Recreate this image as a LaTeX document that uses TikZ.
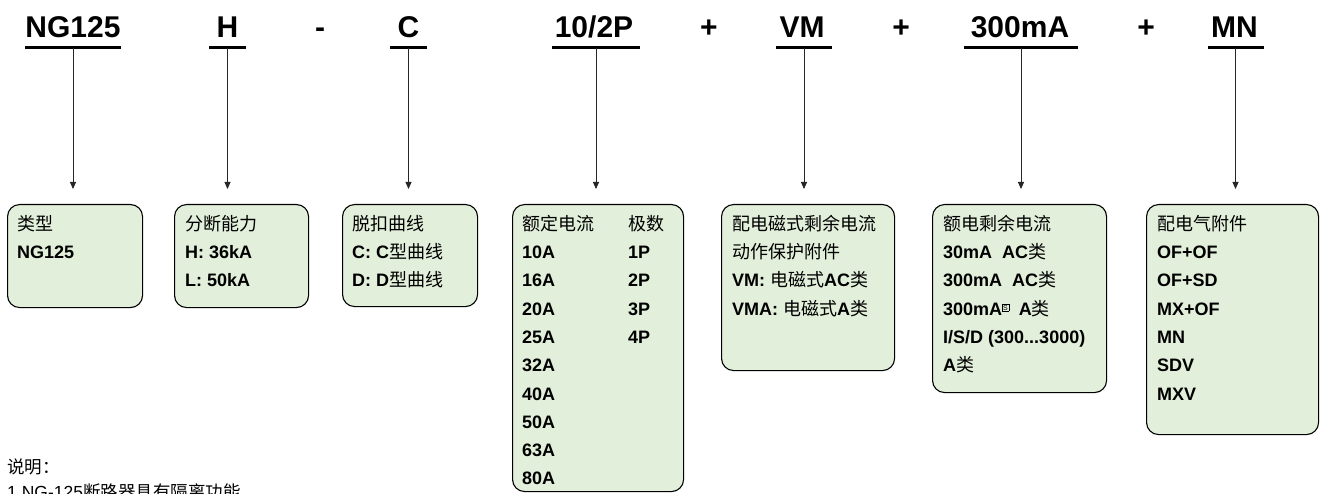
\documentclass[tikz,border=0pt]{standalone}
\usepackage{fontspec}
\setmainfont{Liberation Sans}
\newfontfamily\cjk{Noto Sans CJK SC}
\newcommand{\zh}[1]{{\cjk\mdseries #1}}
\newcommand{\boxS}{\raisebox{5pt}{\fboxsep=0.6pt\fboxrule=0.4pt\fbox{\fontsize{7}{7}\selectfont\mdseries S}}}
\usetikzlibrary{arrows.meta}
\definecolor{boxfill}{RGB}{226,239,218}
\begin{document}
\begin{tikzpicture}[x=1pt,y=-1pt,
  hdr/.style={font=\fontsize{30}{30}\selectfont\bfseries, inner sep=0pt, anchor=base},
  uline/.style={line width=3pt},
  conn/.style={line width=0.8pt, draw=black!85, -{Triangle[length=7pt,width=6pt]}, shorten >=15pt},
  card/.style={draw=black, line width=1.1pt, fill=boxfill, rounded corners=12pt, anchor=north west, inner sep=0pt},
  cardtext/.style={anchor=north west, inner sep=0pt, align=left, font=\fontsize{18}{28.3}\selectfont\bfseries},
  note/.style={anchor=north west, inner sep=0pt, align=left, font=\fontsize{17.5}{25.5}\selectfont},
]
\useasboundingbox (0,0) rectangle (1322,494);

% header codes
\node[hdr] (h1) at (73,38) {NG125};
\node[hdr] (h2) at (227.5,38) {H};
\node[hdr] (m1) at (320,38) {-};
\node[hdr] (h3) at (408.5,38) {C};
\node[hdr] (h4) at (594,38) {10/2P};
\node[hdr] (p1) at (709,38) {+};
\node[hdr] (h5) at (802,38) {VM};
\node[hdr] (p2) at (901,38) {+};
\node[hdr] (h6) at (1020,38) {300mA};
\node[hdr] (p3) at (1146,38) {+};
\node[hdr] (h7) at (1234.5,38) {MN};

% underline centres
\coordinate (u1) at (73,48);
\coordinate (u2) at (227.5,48);
\coordinate (u3) at (408.5,48);
\coordinate (u4) at (596,48);
\coordinate (u5) at (804,48);
\coordinate (u6) at (1021,48);
\coordinate (u7) at (1235.5,48);
\draw[uline] (u1) ++(-48,0) -- ++(96,0);
\draw[uline] (u2) ++(-18.5,0) -- ++(37,0);
\draw[uline] (u3) ++(-18.5,0) -- ++(37,0);
\draw[uline] (u4) ++(-44,0) -- ++(88,0);
\draw[uline] (u5) ++(-28,0) -- ++(56,0);
\draw[uline] (u6) ++(-57,0) -- ++(114,0);
\draw[uline] (u7) ++(-28,0) -- ++(56,0);

% boxes
\node[card, minimum width=135pt, minimum height=103pt] (b1) at (7,204) {};
\node[card, minimum width=134pt, minimum height=103pt] (b2) at (174,204) {};
\node[card, minimum width=135pt, minimum height=102pt] (b3) at (342,204) {};
\node[card, minimum width=171pt, minimum height=287pt] (b4) at (512,204) {};
\node[card, minimum width=173pt, minimum height=166pt] (b5) at (721,204) {};
\node[card, minimum width=174pt, minimum height=188pt] (b6) at (932,204) {};
\node[card, minimum width=172pt, minimum height=230pt] (b7) at (1146,204) {};

% connectors
\draw[conn] (u1) -- (u1 |- b1.north);
\draw[conn] (u2) -- (u2 |- b2.north);
\draw[conn] (u3) -- (u3 |- b3.north);
\draw[conn] (u4) -- (u4 |- b4.north);
\draw[conn] (u5) -- (u5 |- b5.north);
\draw[conn] (u6) -- (u6 |- b6.north);
\draw[conn] (u7) -- (u7 |- b7.north);

% box texts
\node[cardtext] (t1) at (17,214) {\rule{0pt}{16pt}\zh{类型}\\NG125};
\node[cardtext] (t2) at (185,214) {\rule{0pt}{16pt}\zh{分断能力}\\H: 36kA\\L: 50kA};
\node[cardtext] (t3) at (352,214) {\rule{0pt}{16pt}\zh{脱扣曲线}\\C: C\zh{型曲线}\\D: D\zh{型曲线}};
\node[cardtext] (t4a) at (522,214) {\rule{0pt}{16pt}\zh{额定电流}\\10A\\16A\\20A\\25A\\32A\\40A\\50A\\63A\\80A};
\node[cardtext] (t4b) at (628,214) {\rule{0pt}{16pt}\zh{极数}\\1P\\2P\\3P\\4P};
\node[cardtext] (t5) at (732,214) {\rule{0pt}{16pt}\zh{配电磁式剩余电流}\\\zh{动作保护附件}\\VM: \zh{电磁式}AC\zh{类}\\VMA: \zh{电磁式}A\zh{类}};
\node[cardtext] (t6) at (943,214) {\rule{0pt}{16pt}\zh{额电剩余电流}\\30mA\ \ AC\zh{类}\\300mA\ \ AC\zh{类}\\300mA\boxS\ \ A\zh{类}\\I/S/D (300...3000)\\A\zh{类}};
\node[cardtext] (t7) at (1157,214) {\rule{0pt}{16pt}\zh{配电气附件}\\OF+OF\\OF+SD\\MX+OF\\MN\\SDV\\MXV};

% note
\node[note] (n1) at (7,458) {\rule{0pt}{15pt}\zh{说明：}\\1.NG-125\zh{断路器具有隔离功能}};
\end{tikzpicture}
\end{document}
